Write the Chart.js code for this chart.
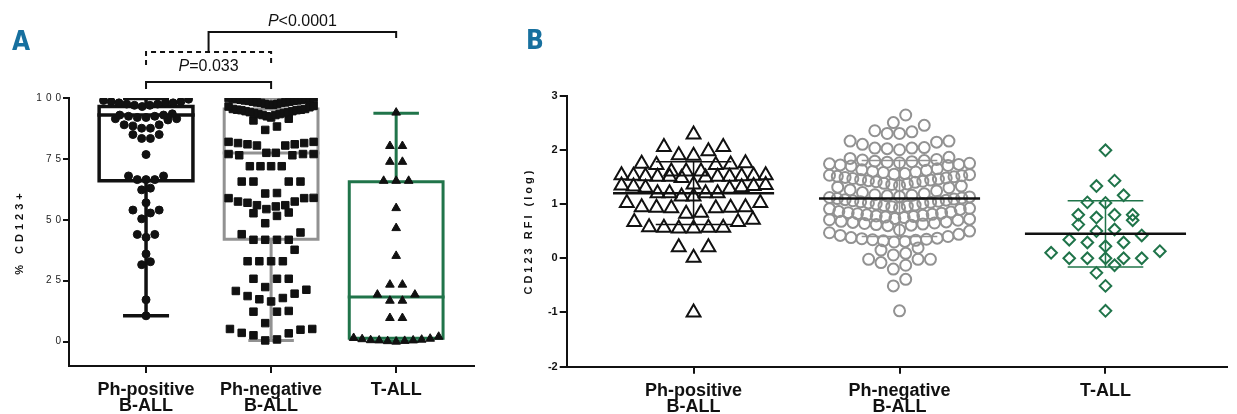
<!DOCTYPE html>
<html>
<head>
<meta charset="utf-8">
<script src="https://cdn.jsdelivr.net/npm/chart.js@4.4.0/dist/chart.umd.min.js"></script>
<style>
  body { margin: 0; background: #fff; }
  .panel { position: absolute; top: 0; height: 414px; }
  #wrapA { left: 0; width: 480px; }
  #wrapB { left: 480px; width: 757px; }
</style>
</head>
<body>
<div class="panel" id="wrapA"><canvas id="chartA"></canvas></div>
<div class="panel" id="wrapB"><canvas id="chartB"></canvas></div>
<script>
const catLabels = [['Ph-positive', 'B-ALL'], ['Ph-negative', 'B-ALL'], 'T-ALL'];

// Panel A: % CD123+ blasts per patient
const phPosPct = [10.6, 17.2, 31.6, 32.8, 36, 42.8, 44, 44, 50.4, 52.8, 54, 54, 57, 62.3, 63,
  66.5, 66.5, 66.5, 68, 68, 76.8, 83.4, 83.4, 85, 85, 87.6, 87.6, 88.5, 89, 89, 91,
  91.5, 91.5, 92, 92, 92.5, 92.5, 93, 93, 93.5,
  96.5, 97, 97, 97.5, 97.5, 98, 98, 98, 98.5, 98.5, 99, 99.5];
const phNegPct = [0.5, 0.9, 2.6, 3.4, 3.6, 4.9, 5.2, 5.2, 7.6,
  12.3, 12.3, 12.6, 16.5, 17.4, 17.9, 18.7, 19.7, 20.8, 21.3, 22.4,
  25.8, 25.8, 25.8, 33, 33, 33, 33, 37.7, 41.8, 41.8, 41.8, 41.8,
  44.1, 44.8, 48.6, 51.6, 52.7, 53, 54.4, 55.5, 56, 56,
  57, 57.5, 57.5, 58.9, 58.9, 59, 60.8, 61,
  65.7, 65.7, 65.7, 65.7, 72, 72, 72, 72,
  76.5, 76.5, 77, 77, 77, 77.5, 77.5,
  80.5, 80.5, 81, 81, 81.5, 81.5, 82, 82, 86.9, 88.3,
  90.8, 91.5, 92, 92.5, 93, 93, 93.4, 93.4, 93.8, 93.8, 94.2, 94.2, 94.6, 94.6, 95, 95, 95.2, 95.2, 95.5, 95.5,
  96.2, 96.5, 96.8, 97.2, 97.2, 97.6, 97.6, 98, 98, 98.2, 98.2, 98.5, 98.5, 98.8, 98.8,
  99, 99, 99.3, 99.3, 99.5, 99.5, 99.8, 99.8, 100, 100];
const tallPct = [0, 0.2, 0.3, 0.5, 0.5, 0.6, 0.8, 1, 1.2, 1.5, 2, 9.7, 9.7, 16.8, 16.8, 19.3, 19.3,
  23.4, 23.4, 35.2, 46.6, 54.8, 66, 66, 66, 73.8, 73.8, 80.3, 80.3, 94];
const boxMin = [10.6, 0.5, 0.2];
const boxQ1 = [66, 42, 1.4];
const boxMedian = [93, 77.4, 18.3];
const boxQ3 = [96.5, 95.5, 65.6];
const boxMax = [99.8, 100, 93.7];
const pctTicks = [0, 25, 50, 75, 100];

// Panel B: CD123 RFI (log)
const phPosRfi = [-1.0, 0.01, 0.2, 0.2, 0.55, 0.56, 0.56, 0.57, 0.56, 0.55, 0.67, 0.67, 0.71,
  0.82, 0.84, 0.92, 0.93, 0.94, 0.93, 0.92, 0.94, 1.02, 1.02, 1.14, 1.14, 1.2, 1.2, 1.2, 1.2,
  1.28, 1.3, 1.31, 1.32, 1.33, 1.34, 1.35, 1.36,
  1.48, 1.49, 1.5, 1.5, 1.5, 1.5, 1.51, 1.51, 1.52, 1.52, 1.53, 1.53, 1.6, 1.6, 1.6,
  1.72, 1.72, 1.73, 1.74, 1.75, 1.89, 1.9, 1.97, 2.05, 2.05, 2.28];
const phNegRfi = [-0.97, -0.51, -0.39, -0.2, -0.13, -0.08, -0.02, -0.02, -0.02, 0.06, 0.09, 0.15, 0.19,
  0.3, 0.31, 0.32, 0.33, 0.34, 0.35, 0.36, 0.37, 0.38, 0.4, 0.42, 0.44, 0.47, 0.5, 0.52,
  0.6, 0.61, 0.62, 0.63, 0.64, 0.65, 0.66, 0.67, 0.68, 0.7, 0.71, 0.72, 0.73, 0.75, 0.76,
  0.77, 0.78, 0.79, 0.8, 0.81, 0.82, 0.83, 0.84, 0.85, 0.86,
  0.9, 0.91, 0.92, 0.93, 0.95, 0.96, 0.97, 0.98, 1.0, 1.01, 1.02, 1.03, 1.04, 1.05, 1.06,
  1.07, 1.08, 1.09, 1.1, 1.11, 1.12, 1.13, 1.14, 1.15, 1.16, 1.17, 1.19, 1.21, 1.24, 1.26,
  1.3, 1.31, 1.33, 1.34, 1.36, 1.37, 1.38, 1.4, 1.41, 1.42, 1.43, 1.44, 1.45, 1.46, 1.47,
  1.48, 1.49, 1.5, 1.51, 1.52, 1.53, 1.54, 1.55, 1.56, 1.58, 1.59, 1.6, 1.62, 1.63, 1.65,
  1.7, 1.71, 1.72, 1.73, 1.74, 1.75, 1.76, 1.77, 1.78, 1.79, 1.8, 1.81, 1.82, 1.84, 1.86,
  2.0, 2.02, 2.03, 2.03, 2.04, 2.1, 2.14, 2.16, 2.16,
  2.3, 2.3, 2.33, 2.35, 2.45, 2.5, 2.64];
const tallRfi = [-0.97, -0.51, -0.27, -0.13, 0, 0, 0, 0, 0, 0.1, 0.13, 0.22, 0.29, 0.29, 0.34, 0.42,
  0.5, 0.53, 0.62, 0.7, 0.75, 0.8, 0.8, 0.8, 1.02, 1.03, 1.16, 1.33, 1.43, 1.99];
const rfiMean = [1.2, 1.1, 0.45];
const rfiSd = [0.58, 0.7, 0.61];

const fontFam = '"Liberation Sans", Arial, sans-serif';
const ink = '#111111';
const blue = '#17709f';
const groupColors = ['#111111', '#929292', '#20744a'];
const labelFont = { family: fontFam, size: 18, weight: 'bold', lineHeight: 0.9 };

// GraphPad-like scatter: rows of close values, lowest value in the middle
function swarm(values, center, o) {
  const sorted = values.slice().sort((a, b) => a - b);
  const rows = [];
  let row = null;
  sorted.forEach(v => {
    if (!row || v - row[0] > o.rowH) {
      row = [];
      rows.push(row);
    }
    row.push(v);
  });
  const out = [];
  rows.forEach(r => {
    const n = r.length;
    const s = n > 1 ? Math.min(o.step, 2 * o.maxHalf / (n - 1)) : 0;
    const slots = r.map((_, i) => (i - (n - 1) / 2) * s)
      .sort((a, b) => Math.abs(a) - Math.abs(b) || a - b);
    r.forEach((v, i) => out.push({ x: center + slots[i], y: v }));
  });
  return out;
}

function seg(points, color, width, order, dash) {
  return {
    data: points, showLine: true, borderColor: color, borderWidth: width,
    borderDash: dash || [], pointRadius: 0, borderCapStyle: 'square',
    borderJoinStyle: 'miter', order: order
  };
}

function dots(points, style, radius, fill, color, bw, order) {
  return {
    data: points, showLine: false, pointStyle: style, pointRadius: radius,
    backgroundColor: fill, borderColor: color, borderWidth: bw, order: order
  };
}

function spacing(px) {
  return {
    id: 'spacing',
    beforeDraw(c) { c.ctx.letterSpacing = px; },
    beforeDatasetsDraw(c) { c.ctx.letterSpacing = '0px'; }
  };
}

function panelLetter(ctx, text, x, y) {
  ctx.font = 'bold 26px "Liberation Sans Narrow", "DejaVu Sans Condensed", sans-serif';
  ctx.fillStyle = blue;
  ctx.textAlign = 'left';
  ctx.textBaseline = 'alphabetic';
  ctx.fillText(text, x, y);
}

// ---------- Panel A ----------
const datasetsA = [];
[phPosPct, phNegPct, tallPct].forEach((vals, i) => {
  const c = i + 1, col = groupColors[i], w = 0.375, cap = 0.17, lw = i === 0 ? 3.5 : 3;
  datasetsA.push(seg([{ x: c - w, y: boxQ1[i] }, { x: c + w, y: boxQ1[i] }, { x: c + w, y: boxQ3[i] },
    { x: c - w, y: boxQ3[i] }, { x: c - w, y: boxQ1[i] }], col, lw, 1));
  datasetsA.push(seg([{ x: c - w, y: boxMedian[i] }, { x: c + w, y: boxMedian[i] }], col, lw, 1));
  datasetsA.push(seg([{ x: c, y: boxMin[i] }, { x: c, y: boxQ1[i] }], col, lw, 1));
  datasetsA.push(seg([{ x: c, y: boxQ3[i] }, { x: c, y: boxMax[i] }], col, lw, 1));
  datasetsA.push(seg([{ x: c - cap, y: boxMin[i] }, { x: c + cap, y: boxMin[i] }], col, lw, 1));
  datasetsA.push(seg([{ x: c - cap, y: boxMax[i] }, { x: c + cap, y: boxMax[i] }], col, lw, 1));
});
datasetsA.push(dots(swarm(phPosPct, 1, { rowH: 4, step: 0.07, maxHalf: 0.34 }), 'circle', 4, ink, ink, 1, 0));
datasetsA.push(dots(swarm(phNegPct, 2, { rowH: 5, step: 0.094, maxHalf: 0.34 }), 'rect', 5.3, ink, ink, 1, 0));
datasetsA.push(dots(swarm(tallPct, 3, { rowH: 4, step: 0.1, maxHalf: 0.34 }), 'triangle', 5, ink, ink, 1, 0));

const brackets = [
  { from: 1, to: 2, rise: 16, legL: 7, legR: 7, dash: [] },
  { from: 1, to: 2, rise: 46, legL: 13, legR: 13, dash: [5, 4] },
  { from: 1.5, to: 3, rise: 66, legL: 20, legR: 6, dash: [] }
];
const pLabels = [{ at: 1.5, rise: 31, text: '=0.033' }, { at: 2.25, rise: 76, text: '<0.0001' }];

const annotateA = {
  id: 'annotateA',
  afterDraw(chart) {
    const { ctx, chartArea, scales: { x } } = chart;
    const top = chartArea.top;
    ctx.save();
    ctx.letterSpacing = '0px';
    ctx.strokeStyle = ink;
    ctx.lineWidth = 2;
    brackets.forEach(b => {
      const x1 = x.getPixelForValue(b.from), x2 = x.getPixelForValue(b.to), y = top - b.rise;
      ctx.setLineDash(b.dash);
      ctx.beginPath();
      ctx.moveTo(x1, y + b.legL);
      ctx.lineTo(x1, y);
      ctx.lineTo(x2, y);
      ctx.lineTo(x2, y + b.legR);
      ctx.stroke();
    });
    ctx.setLineDash([]);
    ctx.fillStyle = ink;
    ctx.textBaseline = 'middle';
    ctx.textAlign = 'left';
    pLabels.forEach(l => {
      ctx.font = 'italic 16px ' + fontFam;
      const wp = ctx.measureText('P').width;
      ctx.font = '16px ' + fontFam;
      const wr = ctx.measureText(l.text).width;
      const x0 = x.getPixelForValue(l.at) - (wp + wr) / 2, y = top - l.rise;
      ctx.font = 'italic 16px ' + fontFam;
      ctx.fillText('P', x0, y);
      ctx.font = '16px ' + fontFam;
      ctx.fillText(l.text, x0 + wp, y);
    });
    panelLetter(ctx, 'A', 12, 50);
    ctx.restore();
  }
};

new Chart(document.getElementById('chartA'), {
  type: 'scatter',
  data: { datasets: datasetsA },
  options: {
    responsive: true,
    maintainAspectRatio: false,
    animation: false,
    layout: { padding: { top: 98, right: 6, left: 0, bottom: 0 } },
    plugins: { legend: { display: false }, tooltip: { enabled: false } },
    scales: {
      x: {
        type: 'linear', min: 0.384, max: 3.62,
        afterBuildTicks: s => { s.ticks = [1, 2, 3].map(v => ({ value: v })); },
        afterFit: s => { s.height = 48; },
        ticks: { callback: (v, i) => catLabels[i], color: ink, font: labelFont, padding: 9,
          maxRotation: 0, autoSkip: false, z: 1 },
        grid: { drawOnChartArea: false, tickLength: 7, color: ink, lineWidth: 2 },
        border: { color: ink, width: 2 }
      },
      y: {
        min: -10, max: 100,
        afterBuildTicks: s => { s.ticks = pctTicks.map(v => ({ value: v })); },
        afterFit: s => { s.width = 69; },
        ticks: { color: '#222', font: { family: fontFam, size: 10 }, padding: -2 },
        grid: { drawOnChartArea: false, tickLength: 6, color: ink, lineWidth: 2 },
        border: { color: ink, width: 2 },
        title: { display: true, text: '% CD123+', color: ink,
          font: { family: fontFam, size: 11, weight: 'bold' }, padding: { top: 13.4, bottom: 0 } }
      }
    }
  },
  plugins: [spacing('4px'), annotateA]
});

// ---------- Panel B ----------
const datasetsB = [];
rfiMean.forEach((m, i) => {
  const c = i + 1, sd = rfiSd[i], col = groupColors[i], cap = 0.18;
  datasetsB.push(seg([{ x: c - 0.385, y: m }, { x: c + 0.385, y: m }], ink, 2.5, 0));
  datasetsB.push(seg([{ x: c, y: m - sd }, { x: c, y: m + sd }], col, 1.5, 0));
  datasetsB.push(seg([{ x: c - cap, y: m + sd }, { x: c + cap, y: m + sd }], col, 1.5, 0));
  datasetsB.push(seg([{ x: c - cap, y: m - sd }, { x: c + cap, y: m - sd }], col, 1.5, 0));
});
datasetsB.push(dots(swarm(phPosRfi, 1, { rowH: 0.22, step: 0.072, maxHalf: 0.35 }), 'triangle', 8, 'rgba(0,0,0,0)', ink, 2, 1));
datasetsB.push(dots(swarm(phNegRfi, 2, { rowH: 0.2, step: 0.06, maxHalf: 0.34 }), 'circle', 5.5, 'rgba(0,0,0,0)', groupColors[1], 2, 1));
datasetsB.push(dots(swarm(tallRfi, 3, { rowH: 0.2, step: 0.088, maxHalf: 0.35 }), 'rectRot', 5.8, 'rgba(0,0,0,0)', groupColors[2], 2, 1));

const annotateB = {
  id: 'annotateB',
  afterDraw(chart) {
    const ctx = chart.ctx;
    ctx.save();
    ctx.letterSpacing = '0px';
    panelLetter(ctx, 'B', 46, 49);
    ctx.restore();
  }
};

new Chart(document.getElementById('chartB'), {
  type: 'scatter',
  data: { datasets: datasetsB },
  options: {
    responsive: true,
    maintainAspectRatio: false,
    animation: false,
    layout: { padding: { top: 95.5, right: 0, left: 0, bottom: 0 } },
    plugins: { legend: { display: false }, tooltip: { enabled: false } },
    scales: {
      x: {
        type: 'linear', min: 0.384, max: 3.59,
        afterBuildTicks: s => { s.ticks = [1, 2, 3].map(v => ({ value: v })); },
        afterFit: s => { s.height = 47.3; },
        ticks: { callback: (v, i) => catLabels[i], color: ink, font: labelFont, padding: 9,
          maxRotation: 0, autoSkip: false, z: 1 },
        grid: { drawOnChartArea: false, tickLength: 7, color: ink, lineWidth: 2 },
        border: { color: ink, width: 2 }
      },
      y: {
        min: -2, max: 3,
        ticks: { stepSize: 1, color: ink, font: { family: fontFam, size: 11, weight: 'bold' }, padding: 2, z: 1 },
        afterFit: s => { s.width = 86.7; },
        grid: { drawOnChartArea: false, tickLength: 7, color: ink, lineWidth: 2 },
        border: { color: ink, width: 2 },
        title: { display: true, text: 'CD123 RFI (log)', color: ink,
          font: { family: fontFam, size: 11, weight: 'bold' }, padding: { top: 42.4, bottom: 0 } }
      }
    }
  },
  plugins: [spacing('3px'), annotateB]
});
</script>
</body>
</html>
